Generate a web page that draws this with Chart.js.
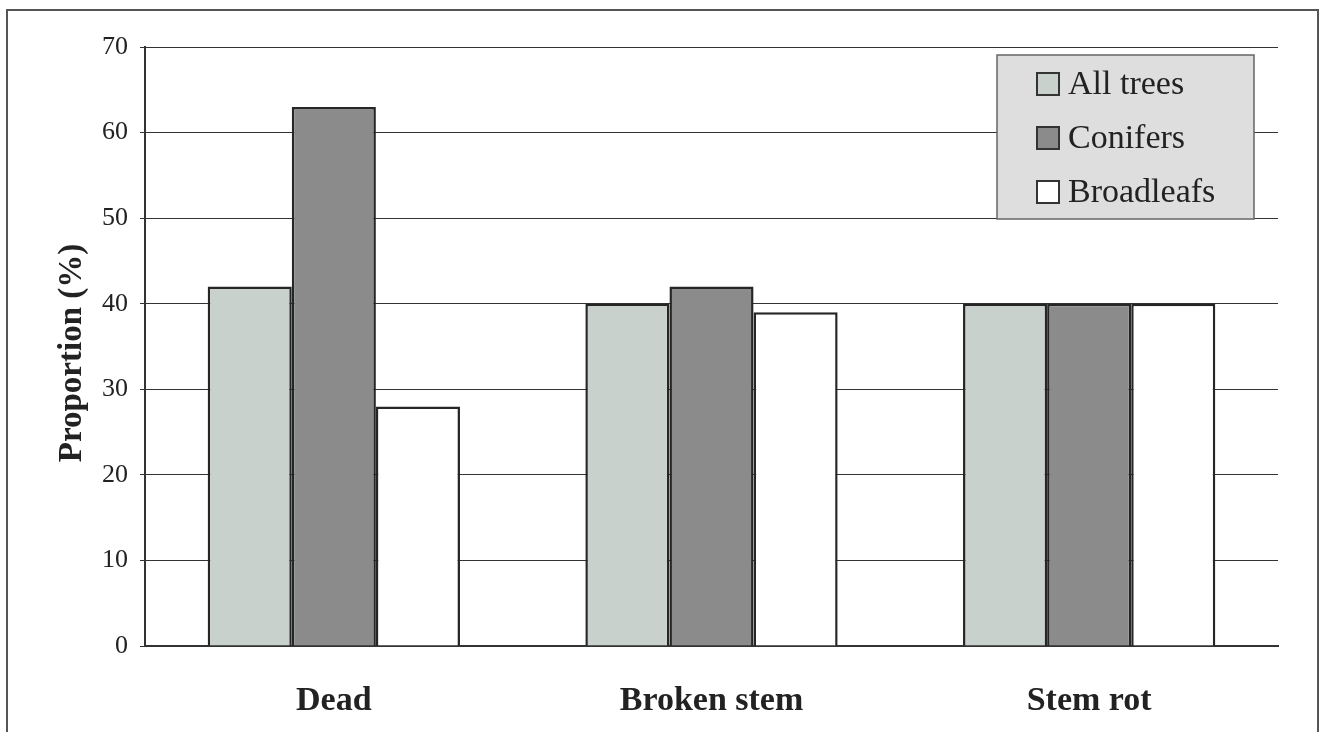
<!DOCTYPE html>
<html>
<head>
<meta charset="utf-8">
<script src="https://cdn.jsdelivr.net/npm/chart.js@4/dist/chart.umd.min.js"></script>
<style>
  html, body { margin: 0; padding: 0; background: #fff; }
  #wrap { position: relative; width: 1325px; height: 732px; overflow: hidden; }
  #frame { position: absolute; left: 6px; top: 9px; width: 1313px; height: 740px; border: 2px solid #555; box-sizing: border-box; }
  canvas { position: absolute; left: 0; top: 0; }
</style>
</head>
<body>
<div id="wrap">
  <div id="frame"></div>
  <canvas id="c" width="1325" height="732"></canvas>
</div>
<script>
const categories = ['Dead', 'Broken stem', 'Stem rot'];
const seriesNames = ['All trees', 'Conifers', 'Broadleafs'];
const allTrees = [42, 40, 40];
const conifers = [63, 42, 40];
const broadleafs = [28, 39, 40];
const yTicks = [0, 10, 20, 30, 40, 50, 60, 70];
const yTitle = 'Proportion (%)';

const fills = ['#c9d1cd', '#8b8b8b', '#ffffff'];
const serif = "'Liberation Serif', 'Times New Roman', serif";

const legendBox = {
  id: 'legendBox',
  afterDraw(chart) {
    const ctx = chart.ctx;
    const x = 997, y = 55, w = 257, h = 164;
    ctx.save();
    ctx.fillStyle = '#dedede';
    ctx.fillRect(x, y, w, h);
    ctx.strokeStyle = '#666';
    ctx.lineWidth = 1.5;
    ctx.strokeRect(x, y, w, h);
    const rows = [84, 138, 192];
    chart.data.datasets.forEach((ds, i) => {
      const cy = rows[i];
      ctx.fillStyle = ds.backgroundColor;
      ctx.fillRect(1037, cy - 11, 22, 22);
      ctx.strokeStyle = '#333';
      ctx.lineWidth = 2;
      ctx.strokeRect(1037, cy - 11, 22, 22);
      ctx.fillStyle = '#222';
      ctx.font = '34px ' + serif;
      ctx.textBaseline = 'middle';
      ctx.textAlign = 'left';
      ctx.fillText(ds.label, 1068, cy + 1);
    });
    // y-axis title
    ctx.translate(72, 353);
    ctx.rotate(-Math.PI / 2);
    ctx.font = 'bold 33px ' + serif;
    ctx.fillStyle = '#222';
    ctx.textAlign = 'center';
    ctx.textBaseline = 'middle';
    ctx.fillText(yTitle, 0, 0);
    ctx.restore();
  }
};

new Chart(document.getElementById('c'), {
  type: 'bar',
  data: {
    labels: categories,
    datasets: [
      { label: seriesNames[0], data: allTrees, backgroundColor: fills[0] },
      { label: seriesNames[1], data: conifers, backgroundColor: fills[1] },
      { label: seriesNames[2], data: broadleafs, backgroundColor: fills[2] }
    ]
  },
  options: {
    responsive: false,
    animation: false,
    devicePixelRatio: 1,
    layout: { padding: { left: 0, top: 47, right: 47, bottom: 0 } },
    datasets: {
      bar: {
        categoryPercentage: 0.668,
        barPercentage: 1.0,
        borderColor: '#262626',
        borderWidth: 2.5
      }
    },
    plugins: {
      legend: { display: false },
      tooltip: { enabled: false }
    },
    scales: {
      x: {
        grid: { display: false, drawTicks: false },
        border: { display: true, color: '#333', width: 2 },
        ticks: { color: '#222', padding: 35, font: { family: serif, size: 34, weight: 'bold' } },
        afterFit(scale) { scale.height = 86; }
      },
      y: {
        min: 0, max: 70,
        afterBuildTicks(scale) { scale.ticks = yTicks.map(v => ({ value: v })); },
        grid: { color: '#333', lineWidth: 1, tickLength: 5, drawTicks: true },
        border: { display: true, color: '#333', width: 2 },
        ticks: { color: '#222', padding: 12, font: { family: serif, size: 26 } },
        afterFit(scale) { scale.width = 145; }
      }
    }
  },
  plugins: [legendBox]
});
</script>
</body>
</html>
